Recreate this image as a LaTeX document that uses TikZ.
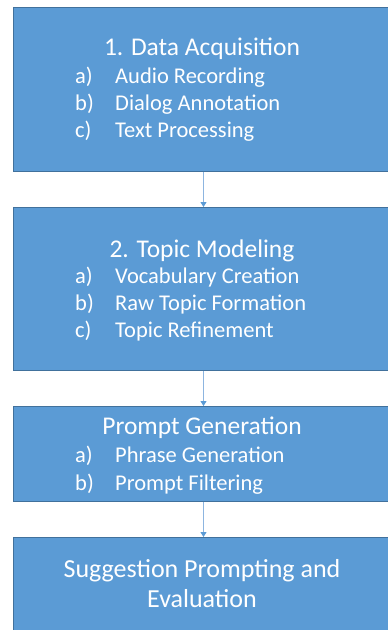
\documentclass[tikz,border=0pt]{standalone}
\usepackage{fontspec}
\setmainfont{Carlito}
\usetikzlibrary{arrows.meta}
\definecolor{boxfill}{HTML}{5B9BD5}
\definecolor{boxline}{HTML}{41719C}
\definecolor{connline}{HTML}{8DB5E0}
\begin{document}
\begin{tikzpicture}[x=1pt,y=-1pt,
  box/.style={draw=boxline, line width=1pt, fill=boxfill, minimum width=380pt, inner sep=0pt, anchor=north west},
  title/.style={text=white, font=\fontsize{25.5}{25.5}\selectfont, anchor=base, inner sep=0pt},
  item/.style={text=white, font=\fontsize{22.5}{22.5}\selectfont, anchor=base west, inner sep=0pt},
  conn/.style={draw=connline, line width=0.9pt, -{Triangle[length=5pt,width=6pt,color=boxfill]}}]
\useasboundingbox (0,0) rectangle (388,630);
\clip (0,0) rectangle (388,630);
\fill[white] (0,0) rectangle (388,630);
% boxes
\node[box, minimum height=164pt] (b1) at (13,7) {};
\node[box, minimum height=163pt] (b2) at (13,207) {};
\node[box, minimum height=95pt] (b3) at (13,406) {};
\node[box, minimum height=110pt] (b4) at (13,537) {};
% connectors
\draw[conn] (b1.south) -- (b2.north);
\draw[conn] (b2.south) -- (b3.north);
\draw[conn] (b3.south) -- (b4.north);
% box 1
\node[title] (t1) at (202,55) {1. Data Acquisition};
\node[item] (l1a) at (75,83) {a)};
\node[item] (i1a) at (115,83) {Audio Recording};
\node[item] (l1b) at (75,110) {b)};
\node[item] (i1b) at (115,110) {Dialog Annotation};
\node[item] (l1c) at (75,137) {c)};
\node[item] (i1c) at (115,137) {Text Processing};
% box 2
\node[title] (t2) at (202,257) {2. Topic Modeling};
\node[item] (l2a) at (75,283) {a)};
\node[item] (i2a) at (115,283) {Vocabulary Creation};
\node[item] (l2b) at (75,310) {b)};
\node[item] (i2b) at (115,310) {Raw Topic Formation};
\node[item] (l2c) at (75,337) {c)};
\node[item] (i2c) at (115,337) {Topic Refinement};
% box 3
\node[title] (t3) at (202,434) {Prompt Generation};
\node[item] (l3a) at (75,462) {a)};
\node[item] (i3a) at (115,462) {Phrase Generation};
\node[item] (l3b) at (75,490) {b)};
\node[item] (i3b) at (115,490) {Prompt Filtering};
% box 4
\node[title, font=\fontsize{26}{26}\selectfont] (t4a) at (202,577) {Suggestion Prompting and};
\node[title, font=\fontsize{26}{26}\selectfont] (t4b) at (202,607) {Evaluation};
\end{tikzpicture}
\end{document}
